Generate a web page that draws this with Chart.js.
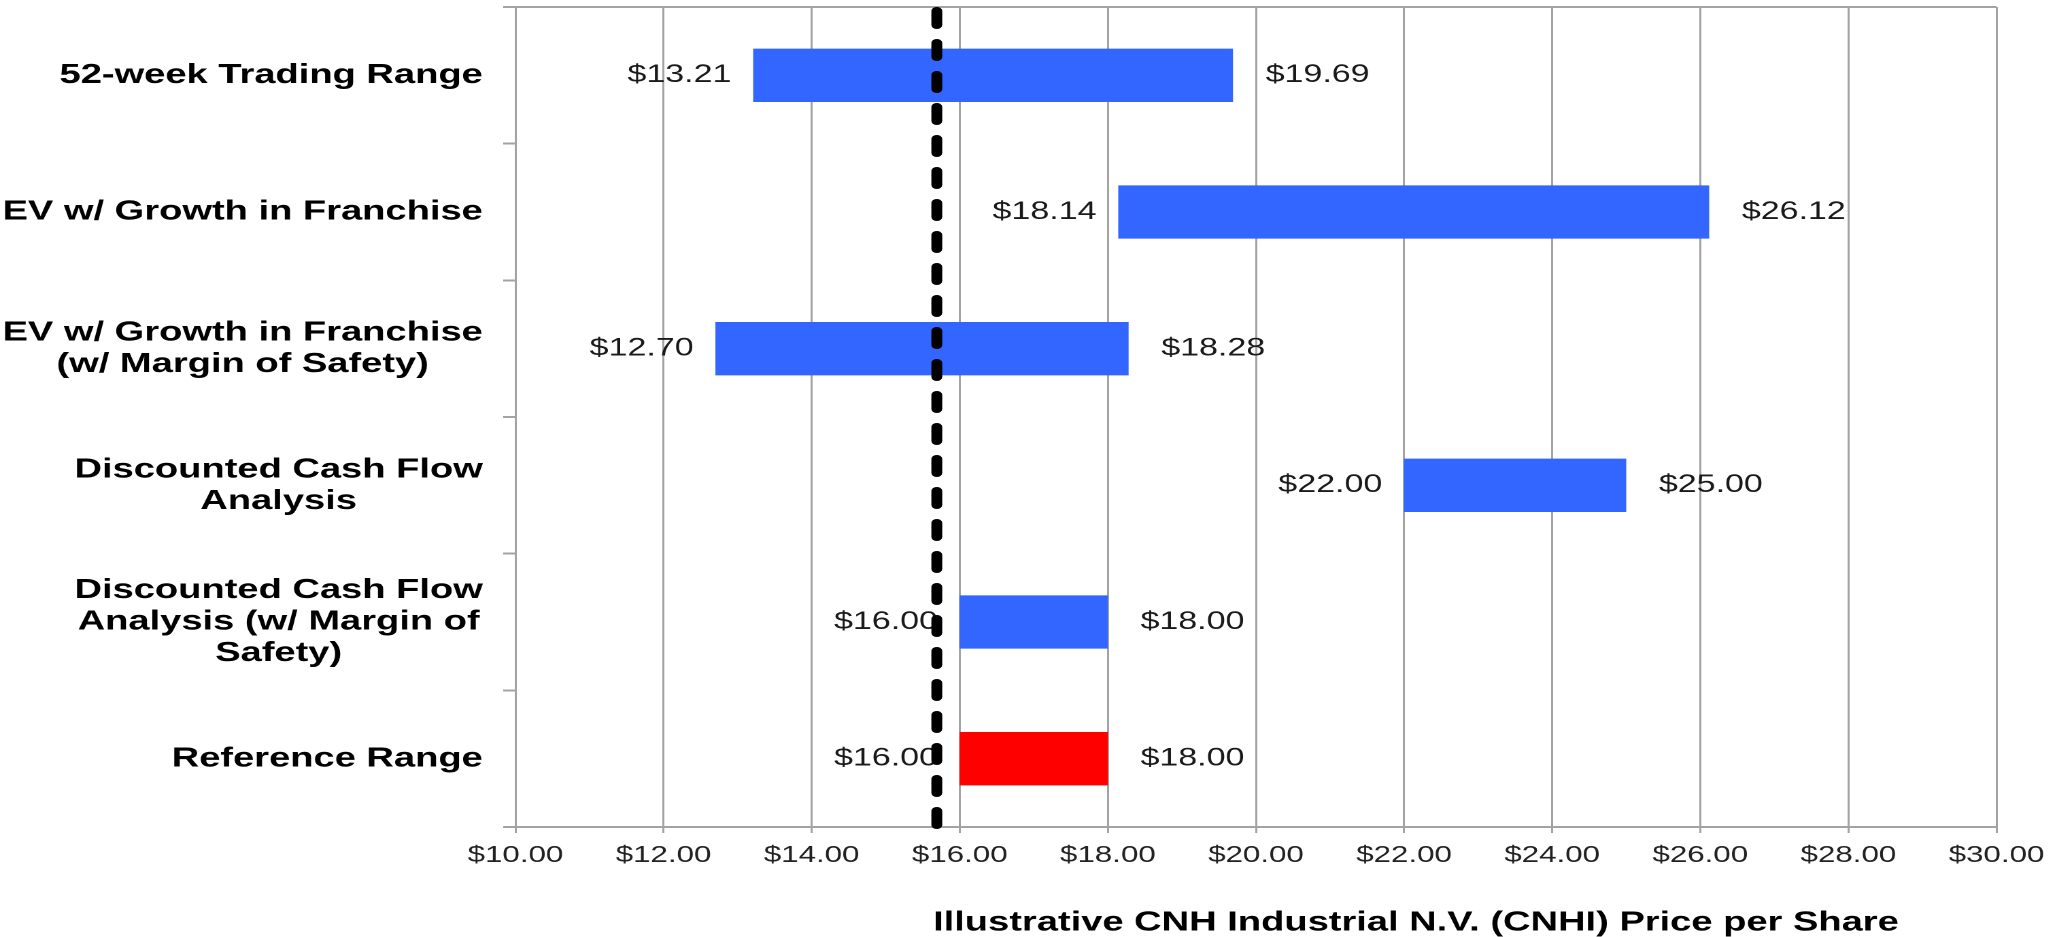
<!DOCTYPE html>
<html>
<head>
<meta charset="utf-8">
<title>CNHI valuation ranges</title>
<script src="https://cdn.jsdelivr.net/npm/chart.js@4.4.1/dist/chart.umd.min.js"></script>
<style>
  html, body { margin: 0; padding: 0; background: #fff; overflow: hidden; }
  /* the source picture is stretched sideways, so the chart is drawn narrow and widened */
  #wrap { width: 1507px; height: 937px; transform: scaleX(1.36); transform-origin: 0 0; }
</style>
</head>
<body>
<div id="wrap"><canvas id="chart"></canvas></div>
<script>
// ─── Data ─────────────────────────────────────────────────────────────────────
const categories = [
  ['52-week Trading Range'],
  ['EV w/ Growth in Franchise'],
  ['EV w/ Growth in Franchise', '(w/ Margin of Safety)'],
  ['Discounted Cash Flow', 'Analysis'],
  ['Discounted Cash Flow', 'Analysis (w/ Margin of', 'Safety)'],
  ['Reference Range'],
];
const lowValues  = [13.21, 18.14, 12.70, 22.00, 16.00, 16.00];
const highValues = [19.69, 26.12, 18.28, 25.00, 18.00, 18.00];
const barColors  = ['#3366FF', '#3366FF', '#3366FF', '#3366FF', '#3366FF', '#FF0000'];
const currentPrice = 15.69;
const xTicks = [10, 12, 14, 16, 18, 20, 22, 24, 26, 28, 30];
const xTitle = 'Illustrative CNH Industrial N.V. (CNHI) Price per Share';

const FONT  = '"Liberation Sans", Arial, sans-serif';
const GRID  = '#a3a3a3';
const money = v => '$' + v.toFixed(2);

// ─── Plugins ──────────────────────────────────────────────────────────────────
const categoryLabels = {
  id: 'categoryLabels',
  afterDraw(chart) {
    const { ctx } = chart;
    const y = chart.scales.y;
    const right = y.right - 9 - 15;
    const lh = 31.5;
    ctx.save();
    ctx.font = `bold 28px ${FONT}`;
    ctx.fillStyle = '#000';
    ctx.textAlign = 'center';
    ctx.textBaseline = 'middle';
    categories.forEach((lines, i) => {
      const w  = Math.max(...lines.map(l => ctx.measureText(l).width));
      const cx = right - w / 2;
      const cy = y.getPixelForValue(i);
      lines.forEach((line, j) => {
        ctx.fillText(line, cx, cy + (j - (lines.length - 1) / 2) * lh);
      });
    });
    ctx.restore();
  },
};

const rangeLabels = {
  id: 'rangeLabels',
  afterDatasetsDraw(chart) {
    const { ctx } = chart;
    const x = chart.scales.x;
    const meta = chart.getDatasetMeta(0);
    ctx.save();
    ctx.font = `25px ${FONT}`;
    ctx.fillStyle = '#1a1a1a';
    ctx.textBaseline = 'middle';
    meta.data.forEach((bar, i) => {
      ctx.textAlign = 'right';
      ctx.fillText(money(lowValues[i]), x.getPixelForValue(lowValues[i]) - 16, bar.y);
      ctx.textAlign = 'left';
      ctx.fillText(money(highValues[i]), x.getPixelForValue(highValues[i]) + 24, bar.y);
    });
    ctx.restore();
  },
};

const priceLine = {
  id: 'priceLine',
  afterDatasetsDraw(chart) {
    const { ctx, chartArea } = chart;
    const px = chart.scales.x.getPixelForValue(currentPrice);
    ctx.save();
    ctx.strokeStyle = '#000';
    ctx.lineWidth = 8;
    ctx.lineCap = 'round';
    ctx.setLineDash([14, 18]);
    ctx.beginPath();
    ctx.moveTo(px, chartArea.top + 4);
    ctx.lineTo(px, chartArea.bottom);
    ctx.stroke();
    ctx.restore();
  },
};

const frameAndTitle = {
  id: 'frameAndTitle',
  beforeDatasetsDraw(chart) {
    const { ctx, chartArea } = chart;
    ctx.save();
    ctx.strokeStyle = GRID;
    ctx.lineWidth = 2;
    ctx.beginPath();
    ctx.moveTo(chartArea.left - 9, chartArea.top);
    ctx.lineTo(chartArea.right, chartArea.top);
    ctx.stroke();
    ctx.restore();
  },
  afterDraw(chart) {
    const { ctx, chartArea } = chart;
    ctx.save();
    ctx.font = `bold 28px ${FONT}`;
    ctx.fillStyle = '#000';
    ctx.textAlign = 'center';
    ctx.textBaseline = 'middle';
    ctx.fillText(xTitle, chartArea.left + 0.608 * (chartArea.right - chartArea.left), 923);
    ctx.restore();
  },
};

// ─── Chart ────────────────────────────────────────────────────────────────────
new Chart(document.getElementById('chart'), {
  type: 'bar',
  data: {
    labels: categories,
    datasets: [{
      data: lowValues.map((lo, i) => [lo, highValues[i]]),
      backgroundColor: barColors,
      borderWidth: 0,
      borderSkipped: false,
      categoryPercentage: 1,
      barPercentage: 0.39,
    }],
  },
  options: {
    indexAxis: 'y',
    responsive: true,
    maintainAspectRatio: false,
    devicePixelRatio: 2,
    animation: false,
    events: [],
    layout: { padding: { top: 7, right: 39, left: 0, bottom: 0 } },
    plugins: { legend: { display: false }, tooltip: { enabled: false } },
    scales: {
      x: {
        type: 'linear',
        min: xTicks[0],
        max: xTicks[xTicks.length - 1],
        afterBuildTicks: s => { s.ticks = xTicks.map(v => ({ value: v })); },
        afterFit: s => { s.height = 110; s.paddingLeft = 0; s.paddingRight = 0; },
        grid:   { color: GRID, lineWidth: 1.5, tickLength: 6, drawTicks: true },
        border: { color: GRID, width: 2 },
        ticks:  { callback: v => money(v), color: '#222', padding: 9, maxRotation: 0,
                  font: { family: FONT, size: 23 } },
      },
      y: {
        type: 'category',
        afterFit: s => { s.width = 379; },
        grid:   { offset: true, drawOnChartArea: false, drawTicks: true, tickLength: 9,
                  color: GRID, lineWidth: 2 },
        border: { color: GRID, width: 1.5 },
        ticks:  { display: false },
      },
    },
  },
  plugins: [frameAndTitle, categoryLabels, rangeLabels, priceLine],
});
</script>
</body>
</html>
